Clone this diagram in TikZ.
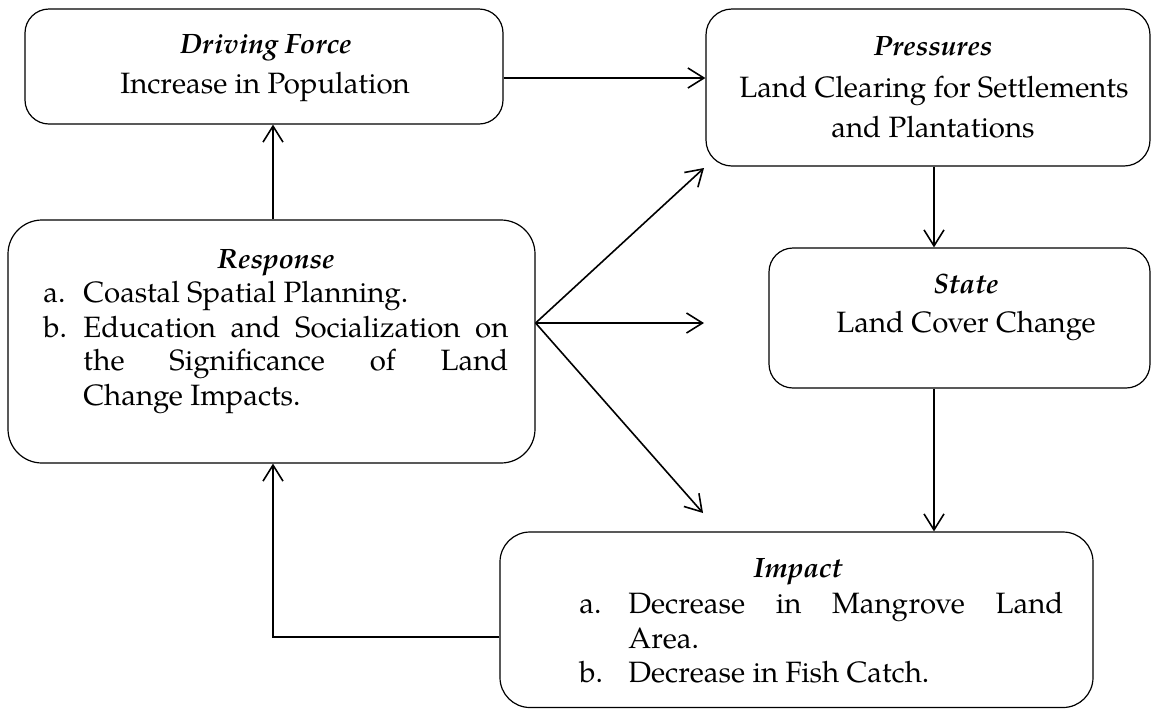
\documentclass[tikz,border=0pt]{standalone}
\usepackage{fontspec}
\setmainfont{TeX Gyre Pagella}
\usetikzlibrary{arrows.meta}
\tikzset{
  box/.style={draw, line width=0.6pt, inner sep=0pt},
  arr/.style={-{Straight Barb[length=8pt,width=10pt]}, line width=0.8pt},
  txt/.style={anchor=base, inner sep=0pt, font=\fontsize{14.7}{17}\selectfont},
  ttl/.style={txt, font=\fontsize{14}{17}\selectfont\bfseries\itshape},
  lft/.style={txt, anchor=base west},
}
\begin{document}
\begin{tikzpicture}[x=0.5pt, y=-0.5pt]
\useasboundingbox (0,0) rectangle (1152,709);
% boxes
\node[box, rounded corners=12pt, minimum width=239pt, minimum height=57.5pt] (DF) at (264,66.5) {};
\node[box, rounded corners=13pt, minimum width=222pt, minimum height=78.5pt] (Pre) at (928,87.5) {};
\node[box, rounded corners=12pt, minimum width=190.5pt, minimum height=70pt] (St) at (959.5,318) {};
\node[box, rounded corners=17pt, minimum width=263.5pt, minimum height=121.5pt] (Re) at (271.5,341.5) {};
\node[box, rounded corners=15pt, minimum width=296.5pt, minimum height=87.75pt] (Im) at (796.5,619.75) {};
% texts
\node[ttl] (DFt) at (266,53) {Driving Force};
\node[txt] (DFa) at (265,93) {Increase in Population};
\node[ttl] (Pt) at (933,55) {Pressures};
\node[txt] (Pa) at (934,97) {Land Clearing for Settlements};
\node[txt] (Pb) at (933,137) {and Plantations};
\node[ttl] (St0) at (966,293) {State};
\node[txt] (Sa) at (966,332) {Land Cover Change};
\node[ttl] (Rt) at (276,268) {Response};
\node[lft] (Rla) at (43,302) {a.};
\node[lft] (Ra) at (83,302) {Coastal Spatial Planning.};
\node[lft] (Rlb) at (43,337) {b.};
\node[lft] (Rb1) at (83,337) {\makebox[212.5pt][s]{Education and Socialization on}};
\node[lft] (Rb2) at (83,370) {\makebox[212.5pt][s]{the Significance of Land}};
\node[lft] (Rb3) at (83,405) {Change Impacts.};
\node[ttl] (It) at (798,577) {Impact};
\node[lft] (Ila) at (579,613) {a.};
\node[lft] (Ia1) at (628,613) {\makebox[217.5pt][s]{Decrease in Mangrove Land}};
\node[lft] (Ia2) at (628,648) {Area.};
\node[lft] (Ilb) at (579,682) {b.};
\node[lft] (Ib) at (628,682) {Decrease in Fish Catch.};
% helper coordinates
\coordinate (ya) at (0,78);
\coordinate (yo) at (0,323);
\coordinate (yc) at (0,637);
\coordinate (xa) at (273,0);
\coordinate (xb) at (934,0);
\coordinate (t1) at (704,168);
\coordinate (t2) at (704,323);
\coordinate (t3) at (703,513);
% connectors
\draw[arr] (DF.east |- ya) -- (Pre.west |- ya);
\draw[arr] (Re.north -| xa) -- (DF.south -| xa);
\draw[arr] (Re.east |- yo) -- (t1);
\draw[arr] (Re.east |- yo) -- (t2);
\draw[arr] (Re.east |- yo) -- (t3);
\draw[arr] (Pre.south -| xb) -- (St.north -| xb);
\draw[arr] (St.south -| xb) -- (Im.north -| xb);
\draw[arr] (Im.west |- yc) -| (Re.south -| xa);
\end{tikzpicture}
\end{document}
